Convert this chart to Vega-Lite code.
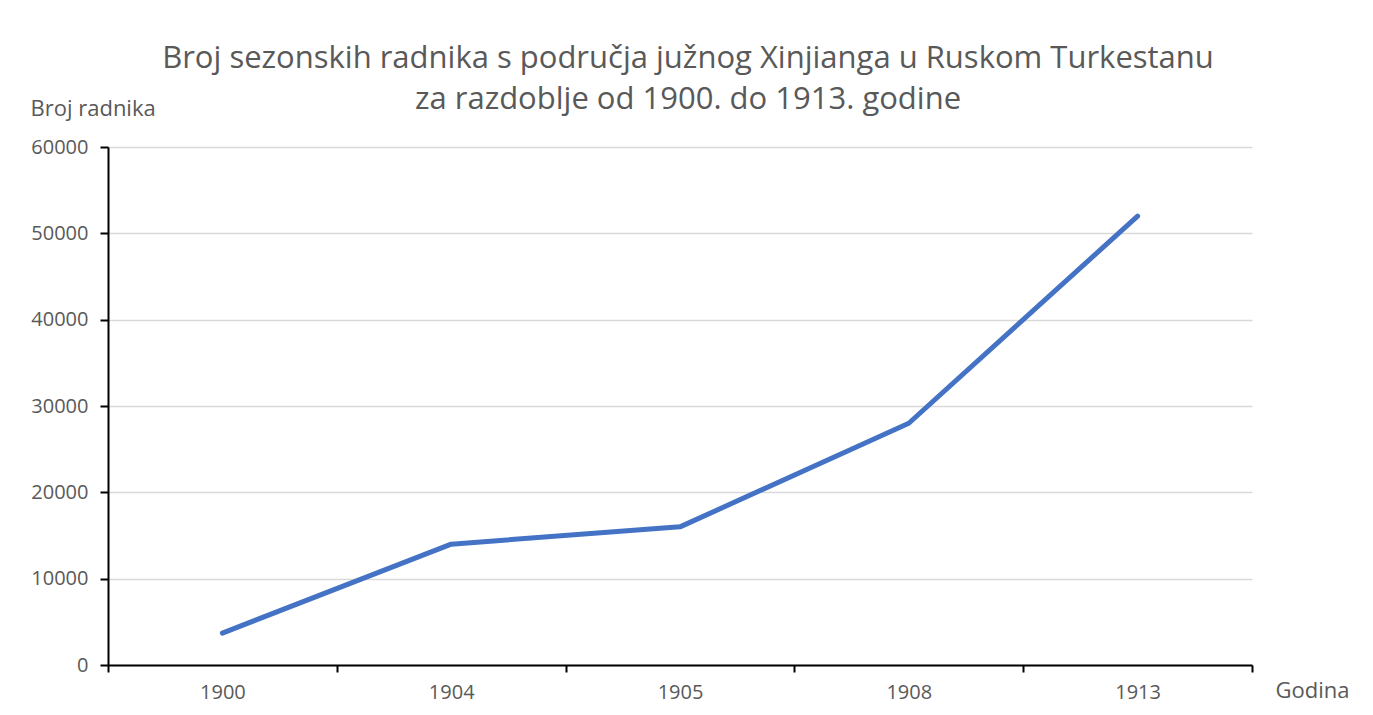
{
  "$schema": "https://vega.github.io/schema/vega-lite/v6.json",
  "width": 1144,
  "height": 518,
  "autosize": {"type": "none"},
  "padding": {"left": 108, "top": 147, "right": 121, "bottom": 50},
  "background": "white",
  "title": {
    "text": ["Broj sezonskih radnika s područja južnog Xinjianga u Ruskom Turkestanu", "za razdoblje od 1900. do 1913. godine"],
    "font": "Open Sans",
    "fontSize": 31,
    "fontWeight": "normal",
    "color": "#595959",
    "lineHeight": 41,
    "anchor": "middle",
    "baseline": "alphabetic",
    "dx": 8,
    "dy": 82,
    "offset": 39
  },
  "data": {
    "values": [
      {"Godina": "1900", "Broj radnika": 3700},
      {"Godina": "1904", "Broj radnika": 14000},
      {"Godina": "1905", "Broj radnika": 16000},
      {"Godina": "1908", "Broj radnika": 28000},
      {"Godina": "1913", "Broj radnika": 52000}
    ]
  },
  "mark": {"type": "line", "color": "#4472C4", "strokeWidth": 5, "strokeCap": "round", "strokeJoin": "round"},
  "encoding": {
    "x": {
      "field": "Godina",
      "type": "ordinal",
      "bandPosition": 0.5,
      "scale": {"type": "band", "paddingInner": 0, "paddingOuter": 0},
      "axis": {
        "title": "Godina",
        "titleFont": "Open Sans",
        "titleFontSize": 22,
        "titleFontWeight": "normal",
        "titleColor": "#595959",
        "titleAlign": "left",
        "titleBaseline": "alphabetic",
        "titleAnchor": null,
        "titleX": 1167,
        "titleY": 32,
        "labelFont": "Open Sans",
        "labelFontSize": 20,
        "labelColor": "#595959",
        "labelAngle": 0,
        "labelPadding": 10,
        "tickBand": "extent",
        "ticks": true,
        "tickSize": 7,
        "tickWidth": 2,
        "tickColor": "#000000",
        "domainColor": "#000000",
        "domainWidth": 2,
        "grid": false
      }
    },
    "y": {
      "field": "Broj radnika",
      "type": "quantitative",
      "scale": {"domain": [0, 60000], "nice": false},
      "axis": {
        "values": [0, 10000, 20000, 30000, 40000, 50000, 60000],
        "format": "d",
        "title": "Broj radnika",
        "titleFont": "Open Sans",
        "titleFontSize": 22,
        "titleFontWeight": "normal",
        "titleColor": "#595959",
        "titleAngle": 0,
        "titleAlign": "left",
        "titleBaseline": "alphabetic",
        "titleAnchor": null,
        "titleX": -78,
        "titleY": -32,
        "labelFont": "Open Sans",
        "labelFontSize": 20,
        "labelColor": "#595959",
        "labelPadding": 12,
        "tickSize": 8,
        "tickWidth": 2,
        "tickColor": "#000000",
        "domainColor": "#000000",
        "domainWidth": 2,
        "grid": true,
        "gridColor": "#d9d9d9",
        "gridWidth": 1.5
      }
    }
  },
  "config": {"view": {"stroke": null}}
}
